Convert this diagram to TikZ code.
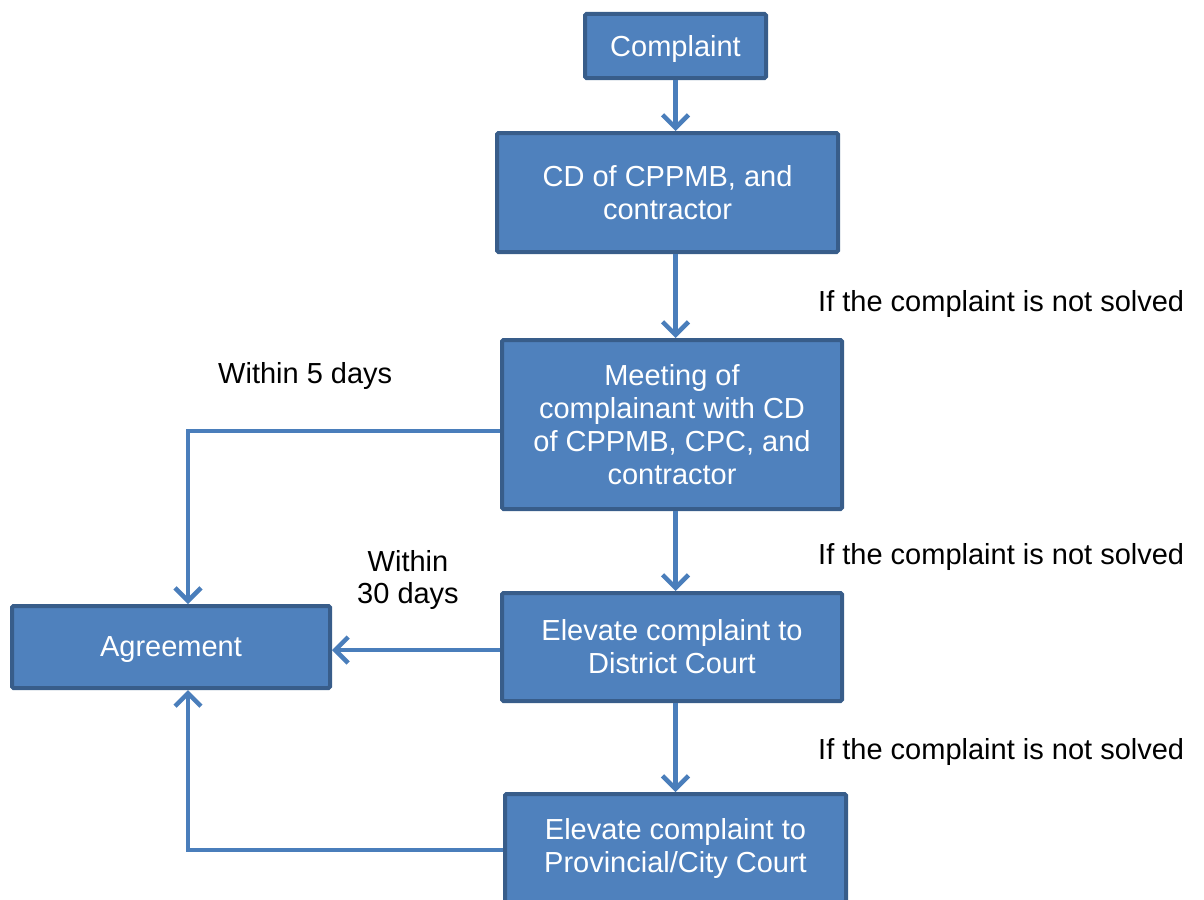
\documentclass[tikz,border=0pt]{standalone}
\usepackage{fontspec}
\setmainfont{Liberation Sans}
\usetikzlibrary{arrows.meta}
\definecolor{boxfill}{HTML}{4F81BD}
\definecolor{boxline}{HTML}{385D8A}
\definecolor{flowline}{HTML}{4A7EBB}

\begin{document}
\begin{tikzpicture}[x=1pt, y=-1pt,
    stepbox/.style={draw=boxline, fill=boxfill, line width=4pt, rounded corners=1.5pt,
        text=white, align=center, inner sep=0pt, font=\fontsize{29}{33}\selectfont},
    flow/.style={draw=flowline, line width=4.5pt, -{Straight Barb[length=13pt, width=26pt]}},
    note/.style={font=\fontsize{29}{32}\selectfont, align=center, inner sep=0pt}]
    \useasboundingbox (0,0) rectangle (1204,899);
    \clip (0,0) rectangle (1204,899);
    % boxes
    \node[stepbox, minimum width=181pt, minimum height=64pt, text depth=0pt] (complaint) at (675.5,46) {Complaint};
    \node[stepbox, minimum width=341pt, minimum height=119pt] (cd) at (667.5,192.5) {CD of CPPMB, and\\contractor};
    \node[stepbox, minimum width=340pt, minimum height=169pt] (meeting) at (672,424.5)
        {Meeting of\\complainant with CD\\of CPPMB, CPC, and\\contractor};
    \node[stepbox, minimum width=340pt, minimum height=108pt] (district) at (672,647) {Elevate complaint to\\District Court};
    \node[stepbox, minimum width=341pt, minimum height=108pt] (provincial) at (675.5,848) {Elevate complaint to\\Provincial/City Court};
    \node[stepbox, minimum width=318pt, minimum height=82pt, text depth=0pt] (agreement) at (171,647) {Agreement};
    % labels
    \node[note, anchor=base west] (solved1) at (818,311) {If the complaint is not solved};
    \node[note, anchor=base west] (solved2) at (818,564) {If the complaint is not solved};
    \node[note, anchor=base west] (solved3) at (818,759) {If the complaint is not solved};
    \node[note, anchor=base west] (days5) at (218,383) {Within 5 days};
    \node[note] (days30) at (408,580) {Within\\30 days};
    % connectors
    \draw[flow] (complaint.south) -- (complaint.south |- cd.north);
    \draw[flow] (cd.south -| complaint) -- (meeting.north -| complaint);
    \draw[flow] (meeting.south -| complaint) -- (district.north -| complaint);
    \draw[flow] (district.south -| complaint) -- (provincial.north -| complaint);
    \draw[flow] ([yshift=-6.5pt]meeting.west) -| ([xshift=17pt]agreement.north);
    \draw[flow] ([yshift=-3pt]district.west) -- ([yshift=-3pt]district.west -| agreement.east);
    \draw[flow] ([yshift=-2pt]provincial.west) -| ([xshift=17pt]agreement.south);
\end{tikzpicture}
\end{document}
